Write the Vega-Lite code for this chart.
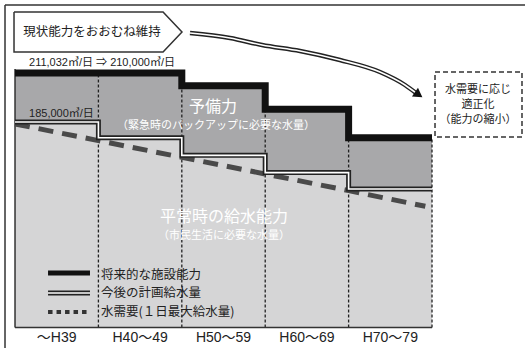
{
  "$schema": "https://vega.github.io/schema/vega-lite/v6.json",
  "width": 525,
  "height": 348,
  "padding": 0,
  "autosize": {"type": "none"},
  "background": "white",
  "config": {"view": {"stroke": null}, "font": "Noto Sans CJK JP"},
  "datasets": {
    "periods": [
      {"label": "～H39", "x": 30, "x2": 40, "mid": 35, "cap": 210000, "plan": 185000, "floor": 80200, "labelY": 74840},
      {"label": "H40～49", "x": 40, "x2": 50, "mid": 45, "cap": 210000, "plan": 177000, "floor": 80200, "labelY": 74840},
      {"label": "H50～59", "x": 50, "x2": 60, "mid": 55, "cap": 203500, "plan": 168000, "floor": 80200, "labelY": 74840},
      {"label": "H60～69", "x": 60, "x2": 70, "mid": 65, "cap": 191500, "plan": 159200, "floor": 80200, "labelY": 74840},
      {"label": "H70～79", "x": 70, "x2": 80, "mid": 75, "cap": 177000, "plan": 150800, "floor": 80200, "labelY": 74840}
    ],
    "capLine": [
      {"x": 30, "y": 210000}, {"x": 50, "y": 203500}, {"x": 60, "y": 191500}, {"x": 70, "y": 177000}, {"x": 80, "y": 177000}
    ],
    "planLine": [
      {"x": 30, "y": 185000}, {"x": 40, "y": 177000}, {"x": 50, "y": 168000}, {"x": 60, "y": 159200}, {"x": 70, "y": 150800}, {"x": 80, "y": 150800}
    ],
    "demand": [
      {"x": 30, "y": 184000}, {"x": 40, "y": 175500}, {"x": 50, "y": 167000}, {"x": 60, "y": 158500}, {"x": 70, "y": 150000}, {"x": 79.2, "y": 142000}
    ],
    "dividers": [
      {"x": 40, "y": 80200, "y2": 210000}, {"x": 50, "y": 80200, "y2": 203500}, {"x": 60, "y": 80200, "y2": 191500}, {"x": 70, "y": 80200, "y2": 177000}, {"x": 80, "y": 80200, "y2": 177000}
    ],
    "plotFrame": [
      {"x": 30, "x2": 30, "y": 80200, "y2": 212000},
      {"x": 30, "x2": 80, "y": 80200, "y2": 80200}
    ],
    "outerFrame": [
      {"x": 28.8, "x2": 28.8, "y": 69740, "y2": 244670},
      {"x": 28.8, "x2": 91.2, "y": 244670, "y2": 244670}
    ],
    "pentagon": [
      {"o": 1, "x": 29.88, "y": 241100}, {"o": 2, "x": 47.75, "y": 241100}, {"o": 3, "x": 50.02, "y": 230900},
      {"o": 4, "x": 47.75, "y": 220700}, {"o": 5, "x": 29.88, "y": 220700}, {"o": 6, "x": 29.88, "y": 241100}
    ],
    "curve": [
      {"x": 50.98, "y": 230390}, {"x": 55.78, "y": 227840}, {"x": 59.62, "y": 224270}, {"x": 64.17, "y": 221210},
      {"x": 68.96, "y": 216620}, {"x": 73.76, "y": 210500}, {"x": 76.76, "y": 203870}, {"x": 78.08, "y": 199790}
    ],
    "arrowHead": [{"x": 78.4, "y": 198900}],
    "box": [{"x": 80.36, "x2": 90.79, "y": 177350, "y2": 210500}],
    "boxText": [
      {"t": "水需要に応じ", "x": 85.52, "y": 201320},
      {"t": "適正化", "x": 85.52, "y": 193670},
      {"t": "（能力の縮小）", "x": 85.52, "y": 186020}
    ],
    "numText": [
      {"t": "211,032㎥/日 ⇒ 210,000㎥/日", "x": 31.68, "y": 215345},
      {"t": "185,000㎥/日", "x": 31.68, "y": 189080}
    ],
    "bigText": [
      {"t": "予備力", "x": 53.74, "y": 192650},
      {"t": "平常時の給水能力", "x": 55.06, "y": 136550}
    ],
    "subText": [
      {"t": "（緊急時のバックアップに必要な水量）", "x": 54.1, "y": 182960},
      {"t": "（市民生活に必要な水量）", "x": 55.06, "y": 126860}
    ],
    "titleText": [{"t": "現状能力をおおむね維持", "x": 39.23, "y": 230900}],
    "legendLines": [
      {"k": "cap", "x": 33.96, "x2": 38.99, "y": 107990},
      {"k": "plan", "x": 33.96, "x2": 38.99, "y": 97790},
      {"k": "demand", "x": 33.96, "x2": 38.99, "y": 88100}
    ],
    "legendText": [
      {"t": "将来的な施設能力", "x": 40.3, "y": 106970},
      {"t": "今後の計画給水量", "x": 40.3, "y": 97790},
      {"t": "水需要(１日最大給水量)", "x": 40.3, "y": 88100}
    ]
  },
  "encoding": {
    "x": {"field": "x", "type": "quantitative", "scale": {"domain": [28.2, 91.15], "nice": false, "zero": false}, "axis": null},
    "y": {"field": "y", "type": "quantitative", "scale": {"domain": [69740, 247220], "nice": false, "zero": false}, "axis": null}
  },
  "layer": [
    {
      "data": {"name": "periods"},
      "mark": {"type": "rect", "fill": "#d5d5d6"},
      "encoding": {"x2": {"field": "x2"}, "y": {"field": "plan", "type": "quantitative"}, "y2": {"field": "floor"}}
    },
    {
      "data": {"name": "periods"},
      "mark": {"type": "rect", "fill": "#a8a8aa"},
      "encoding": {"x2": {"field": "x2"}, "y": {"field": "cap", "type": "quantitative"}, "y2": {"field": "plan"}}
    },
    {
      "data": {"name": "dividers"},
      "mark": {"type": "rule", "stroke": "#222", "strokeWidth": 1.3, "strokeDash": [3, 2]},
      "encoding": {"y2": {"field": "y2"}}
    },
    {
      "data": {"name": "plotFrame"},
      "mark": {"type": "rule", "stroke": "#333", "strokeWidth": 1.5},
      "encoding": {"x2": {"field": "x2"}, "y2": {"field": "y2"}}
    },
    {
      "data": {"name": "demand"},
      "mark": {"type": "line", "stroke": "#4a4a4a", "strokeWidth": 5, "strokeDash": [15, 9], "strokeCap": "butt"},
      "encoding": {}
    },
    {
      "data": {"name": "planLine"},
      "mark": {"type": "line", "stroke": "#222", "strokeWidth": 5, "interpolate": "step-after", "strokeJoin": "miter"},
      "encoding": {}
    },
    {
      "data": {"name": "planLine"},
      "mark": {"type": "line", "stroke": "white", "strokeWidth": 1.6, "interpolate": "step-after", "strokeJoin": "miter"},
      "encoding": {}
    },
    {
      "data": {"name": "capLine"},
      "mark": {"type": "line", "stroke": "#111", "strokeWidth": 7, "interpolate": "step-after", "strokeJoin": "miter", "strokeCap": "butt"},
      "encoding": {}
    },
    {
      "data": {"name": "periods"},
      "mark": {"type": "text", "font": "Liberation Sans, Noto Sans CJK JP", "fontSize": 14, "fill": "#222", "baseline": "middle", "align": "center"},
      "encoding": {"x": {"field": "mid", "type": "quantitative"}, "y": {"field": "labelY", "type": "quantitative"}, "text": {"field": "label"}}
    },
    {
      "data": {"name": "numText"},
      "mark": {"type": "text", "font": "Liberation Sans, Noto Sans CJK JP", "fontSize": 11, "fill": "#222", "baseline": "middle", "align": "left"},
      "encoding": {"text": {"field": "t"}}
    },
    {
      "data": {"name": "bigText"},
      "mark": {"type": "text", "fontSize": 16, "fill": "white", "baseline": "middle", "align": "center"},
      "encoding": {"text": {"field": "t"}}
    },
    {
      "data": {"name": "subText"},
      "mark": {"type": "text", "fontSize": 11, "fill": "white", "baseline": "middle", "align": "center"},
      "encoding": {"text": {"field": "t"}}
    },
    {
      "data": {"name": "legendLines"},
      "transform": [{"filter": "datum.k == 'cap'"}],
      "mark": {"type": "rule", "stroke": "#111", "strokeWidth": 5},
      "encoding": {"x2": {"field": "x2"}}
    },
    {
      "data": {"name": "legendLines"},
      "transform": [{"filter": "datum.k == 'plan'"}],
      "mark": {"type": "rule", "stroke": "#222", "strokeWidth": 5},
      "encoding": {"x2": {"field": "x2"}}
    },
    {
      "data": {"name": "legendLines"},
      "transform": [{"filter": "datum.k == 'plan'"}],
      "mark": {"type": "rule", "stroke": "white", "strokeWidth": 1.6},
      "encoding": {"x2": {"field": "x2"}}
    },
    {
      "data": {"name": "legendLines"},
      "transform": [{"filter": "datum.k == 'demand'"}],
      "mark": {"type": "rule", "stroke": "#333", "strokeWidth": 4, "strokeDash": [4.5, 4]},
      "encoding": {"x2": {"field": "x2"}}
    },
    {
      "data": {"name": "legendText"},
      "mark": {"type": "text", "fontSize": 12.5, "fill": "#222", "baseline": "middle", "align": "left"},
      "encoding": {"text": {"field": "t"}}
    },
    {
      "data": {"name": "pentagon"},
      "mark": {"type": "line", "stroke": "#333", "strokeWidth": 1.5, "strokeJoin": "miter"},
      "encoding": {"order": {"field": "o", "type": "quantitative"}}
    },
    {
      "data": {"name": "titleText"},
      "mark": {"type": "text", "fontSize": 12.5, "fill": "#222", "baseline": "middle", "align": "center"},
      "encoding": {"text": {"field": "t"}}
    },
    {
      "data": {"name": "curve"},
      "mark": {"type": "line", "stroke": "#222", "strokeWidth": 4.5, "interpolate": "monotone"},
      "encoding": {}
    },
    {
      "data": {"name": "curve"},
      "mark": {"type": "line", "stroke": "white", "strokeWidth": 1.6, "interpolate": "monotone"},
      "encoding": {}
    },
    {
      "data": {"name": "arrowHead"},
      "mark": {"type": "point", "shape": "triangle-right", "filled": true, "fill": "#111", "size": 110, "angle": 35, "opacity": 1},
      "encoding": {}
    },
    {
      "data": {"name": "box"},
      "mark": {"type": "rect", "fill": "white", "fillOpacity": 0, "stroke": "#333", "strokeWidth": 1.5, "strokeDash": [5, 3]},
      "encoding": {"x2": {"field": "x2"}, "y2": {"field": "y2"}}
    },
    {
      "data": {"name": "boxText"},
      "mark": {"type": "text", "fontSize": 11, "fill": "#222", "baseline": "middle", "align": "center"},
      "encoding": {"text": {"field": "t"}}
    },
    {
      "data": {"name": "outerFrame"},
      "mark": {"type": "rule", "stroke": "#333", "strokeWidth": 1.5},
      "encoding": {"x2": {"field": "x2"}, "y2": {"field": "y2"}}
    }
  ]
}
